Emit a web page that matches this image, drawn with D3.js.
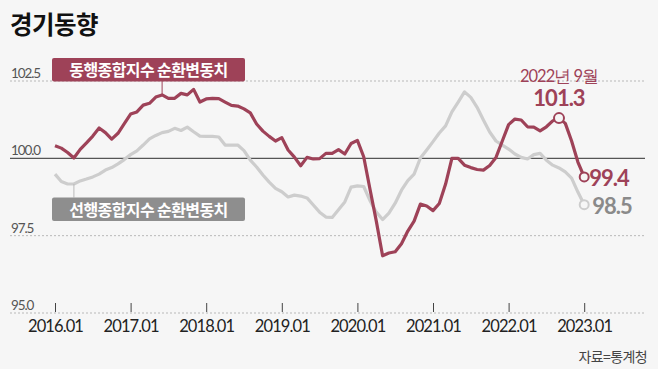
<!DOCTYPE html>
<html><head><meta charset="utf-8">
<script src="https://cdn.jsdelivr.net/npm/d3@7"></script>
<style>
html,body{margin:0;padding:0;background:#f6f6f6;}
svg{display:block;}
</style></head>
<body>
<svg id="chart" width="658" height="369"></svg>
<script>
// ---- data (monthly, 2016.01 – 2023.01) ----
const startYear = 2016;
const coincident = [
 100.41,100.33,100.19,100.01,100.29,100.50,100.72,100.98,100.83,100.62,100.81,101.12,
 101.43,101.50,101.72,101.78,101.98,102.05,101.94,101.94,102.10,102.05,102.23,101.82,
 101.92,101.94,101.93,101.82,101.71,101.69,101.60,101.47,101.11,100.88,100.71,100.56,
 100.67,100.27,100.04,99.76,100.03,99.98,99.99,100.16,100.16,100.28,100.14,100.48,
 100.58,100.05,99.00,97.97,96.85,96.94,96.98,97.24,97.65,97.97,98.52,98.46,
 98.31,98.54,99.17,100.00,100.00,99.78,99.70,99.64,99.62,99.77,100.03,100.56,
 101.09,101.27,101.24,101.02,101.01,100.89,101.02,101.21,101.30,101.13,100.56,99.88,
 99.40
];
const leading = [
 99.49,99.25,99.17,99.17,99.27,99.33,99.40,99.49,99.62,99.70,99.82,99.96,
 100.12,100.24,100.43,100.63,100.74,100.83,100.87,100.97,100.90,101.01,100.86,100.72,
 100.71,100.71,100.69,100.43,100.43,100.43,100.25,99.94,99.72,99.46,99.23,99.03,
 98.92,98.75,98.81,98.78,98.72,98.49,98.26,98.10,98.09,98.34,98.59,99.07,
 99.11,99.09,98.63,98.26,98.02,98.23,98.55,98.97,99.28,99.49,100.01,100.27,
 100.54,100.82,101.05,101.50,101.82,102.15,101.97,101.65,101.24,100.85,100.56,100.43,
 100.30,100.14,100.03,99.98,100.12,100.16,99.94,99.78,99.69,99.56,99.36,98.91,
 98.50
];
const yTicks = [95.0, 97.5, 100.0, 102.5];
const xTickLabels = ["2016.01","2017.01","2018.01","2019.01","2020.01","2021.01","2022.01","2023.01"];
const seriesNames = ["동행종합지수 순환변동치","선행종합지수 순환변동치"];
const title = "경기동향";
const source = "자료=통계청";
const peakLabel = "2022년 9월";
const peakIndex = 80;

// ---- layout ----
const svg = d3.select("#chart");
const RED = "#9e4258", GRAY_LINE = "#cdcdcd", GRAY_BOX = "#8e8e8e";
const NUM = "Lato, 'Noto Sans', sans-serif";
const KR = "'Noto Sans CJK KR', 'Noto Sans', sans-serif";

const x = d3.scaleLinear().domain([0, coincident.length - 1]).range([55, 584.2]);
const y = d3.scaleLinear().domain([95, 102.5]).range([313, 81]);

svg.append("rect").attr("width",658).attr("height",369).attr("fill","#f6f6f6");

svg.append("text").attr("x",10).attr("y",34)
  .attr("font-family",KR).attr("font-weight",700).attr("font-size",24.5)
  .attr("letter-spacing",-0.5).attr("fill","#111").text(title);

// gridlines
const grid = svg.append("g");
yTicks.forEach(v => {
  grid.append("line").attr("x1",10).attr("x2",645).attr("y1",y(v)).attr("y2",y(v))
    .attr("stroke", v===100 ? "#555" : "#b8b8b8")
    .attr("stroke-width", v===100 ? 1.2 : 1)
    .attr("stroke-dasharray", v===100 ? null : "2,2");
  grid.append("text").attr("x",11).attr("y",y(v)-3)
    .attr("font-family",NUM).attr("font-size",13.5).attr("letter-spacing",-1.1)
    .attr("fill","#555").text(d3.format(".1f")(v));
});

// x axis
const xAxis = d3.axisBottom(x)
  .tickValues(xTickLabels.map((d,i)=>i*12))
  .tickFormat((d,i)=>xTickLabels[i])
  .tickSize(9).tickPadding(8);
const gx = svg.append("g").attr("transform","translate(0,303)").call(xAxis);
gx.select(".domain").remove();
gx.selectAll(".tick line").attr("stroke","#444");
gx.selectAll(".tick text").attr("font-family",NUM).attr("font-size",16.5)
  .attr("letter-spacing",-0.9).attr("fill","#222");

// lines
const line = d3.line().x((d,i)=>x(i)).y(d=>y(d)).curve(d3.curveLinear);
svg.append("path").datum(leading).attr("d",line).attr("fill","none")
  .attr("stroke",GRAY_LINE).attr("stroke-width",3.2).attr("stroke-linejoin","round");
svg.append("path").datum(coincident).attr("d",line).attr("fill","none")
  .attr("stroke",RED).attr("stroke-width",3.2).attr("stroke-linejoin","round");

// legend boxes with leader lines
function tag(label, bx, by, fill, lx, ly1, ly2, color){
  svg.append("line").attr("x1",lx).attr("x2",lx).attr("y1",ly1).attr("y2",ly2)
    .attr("stroke",color).attr("stroke-width",1);
  svg.append("rect").attr("x",bx).attr("y",by).attr("width",193).attr("height",23.5)
    .attr("rx",2).attr("fill",fill);
  svg.append("text").attr("x",bx+96.5).attr("y",by+18).attr("text-anchor","middle")
    .attr("font-family",KR).attr("font-weight",700).attr("font-size",16)
    .attr("letter-spacing",-0.6).attr("fill","#fff").text(label);
}
tag(seriesNames[0], 52, 58, RED, x(17), 81, y(coincident[17]), RED);
tag(seriesNames[1], 52, 197.5, GRAY_BOX, x(3), y(leading[3]), 197.5, "#bbb");

// peak annotation
const px = x(peakIndex), py = y(coincident[peakIndex]);
svg.append("text").attr("x",px).attr("y",82).attr("text-anchor","middle")
  .attr("font-family",NUM).attr("font-size",16.5).attr("letter-spacing",-1)
  .attr("fill",RED).text(peakLabel);
svg.append("text").attr("x",px).attr("y",106).attr("text-anchor","middle")
  .attr("font-family",NUM).attr("font-weight",700).attr("font-size",22).attr("letter-spacing",-1)
  .attr("fill",RED).text(d3.format(".1f")(coincident[peakIndex]));
svg.append("circle").attr("cx",px).attr("cy",py).attr("r",5)
  .attr("fill","#f6f6f6").attr("stroke",RED).attr("stroke-width",2);

// end labels
const last = coincident.length - 1;
svg.append("circle").attr("cx",x(last)).attr("cy",y(leading[last])).attr("r",4.5)
  .attr("fill","#f6f6f6").attr("stroke",GRAY_LINE).attr("stroke-width",2);
svg.append("circle").attr("cx",x(last)).attr("cy",y(coincident[last])).attr("r",4.5)
  .attr("fill","#f6f6f6").attr("stroke",RED).attr("stroke-width",2);
svg.append("text").attr("x",x(last)+5).attr("y",y(coincident[last])+9)
  .attr("font-family",NUM).attr("font-weight",700).attr("font-size",22).attr("letter-spacing",-1)
  .attr("fill",RED).text(d3.format(".1f")(coincident[last]));
svg.append("text").attr("x",x(last)+8).attr("y",y(leading[last])+9)
  .attr("font-family",NUM).attr("font-weight",700).attr("font-size",22).attr("letter-spacing",-1)
  .attr("fill","#8a8a8a").text(d3.format(".1f")(leading[last]));

// source
svg.append("text").attr("x",647).attr("y",362).attr("text-anchor","end")
  .attr("font-family",KR).attr("font-size",14).attr("letter-spacing",-0.6)
  .attr("fill","#444").text(source);
</script>
</body></html>
